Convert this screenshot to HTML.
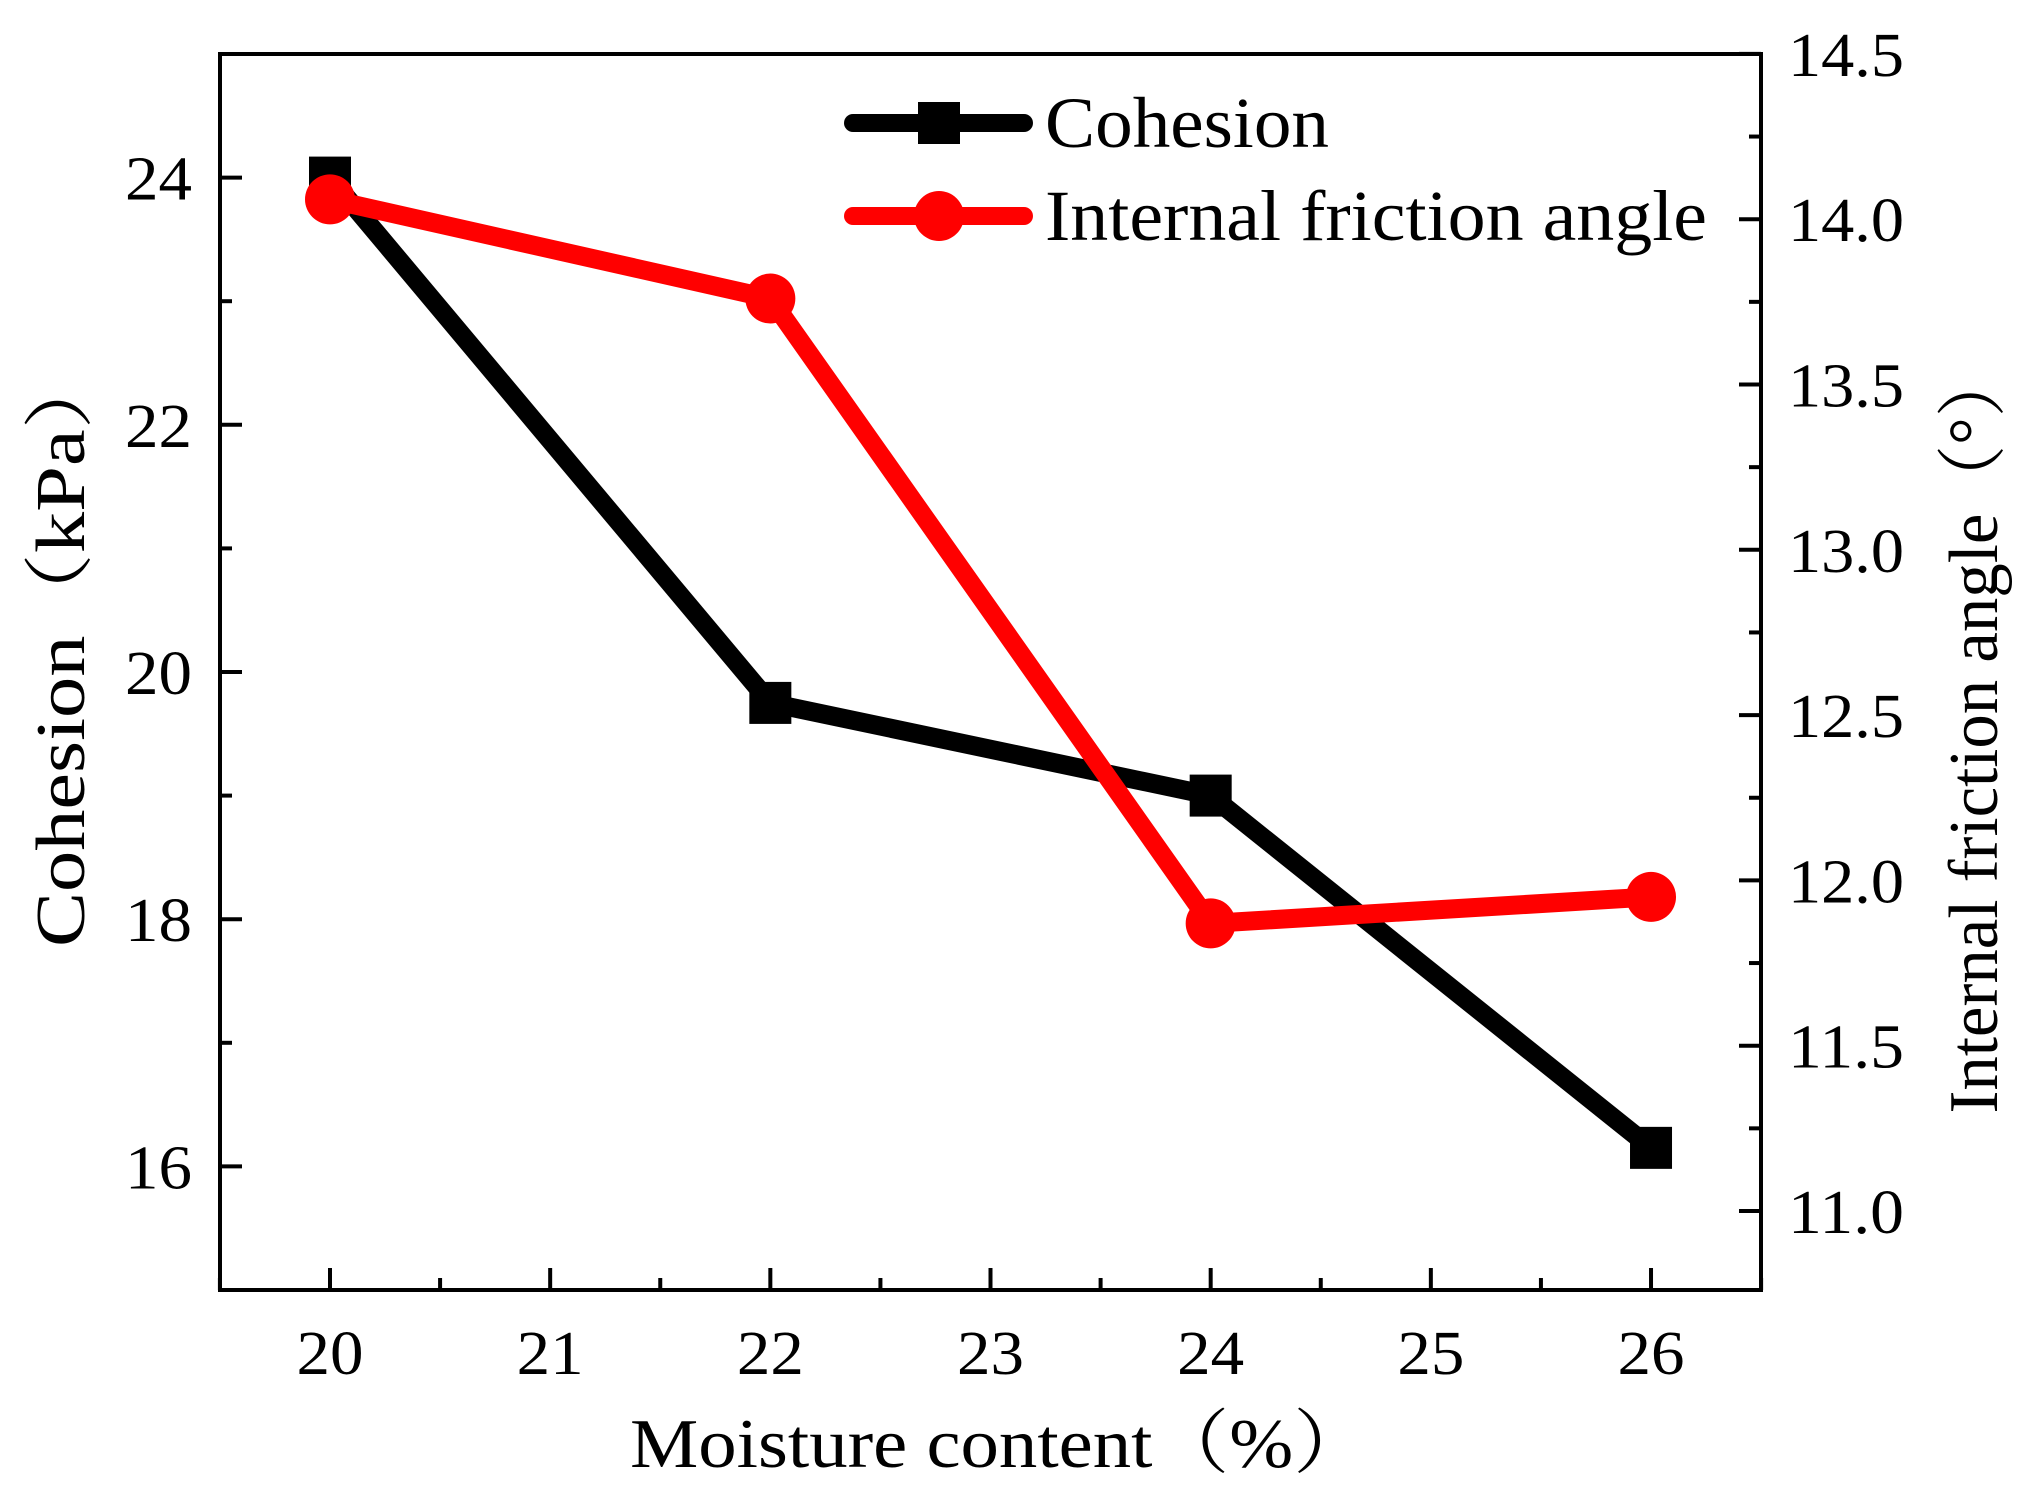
<!DOCTYPE html>
<html><head><meta charset="utf-8"><style>
body{margin:0;background:#fff}
text{font-family:"Liberation Serif","Noto Serif CJK SC",serif;fill:#000}
</style></head><body>
<svg id="c" width="2027" height="1501" viewBox="0 0 2027 1501">
<rect x="220" y="54" width="1541" height="1236" fill="none" stroke="#000" stroke-width="4"/>
<g id="ax"></g><g id="ser"></g>
<text x="630" y="1467" font-size="70" textLength="740" lengthAdjust="spacingAndGlyphs">Moisture content（%）</text>
<text transform="translate(84,647) rotate(-90)" font-size="70" text-anchor="middle" textLength="600" lengthAdjust="spacingAndGlyphs">Cohesion（kPa）</text>
<text transform="translate(1997,731) rotate(-90)" font-size="70" text-anchor="middle" textLength="765" lengthAdjust="spacingAndGlyphs">Internal friction angle（°）</text>
<g>
<g>
<line x1="853" y1="123" x2="1024" y2="123" stroke="#000" stroke-width="18" stroke-linecap="round"/>
<rect x="918" y="102" width="42" height="42" fill="#000"/>
<text x="1045" y="147" font-size="72" textLength="284" lengthAdjust="spacingAndGlyphs">Cohesion</text></g>
<g>
<line x1="853" y1="216" x2="1024" y2="216" stroke="#f00" stroke-width="18" stroke-linecap="round"/>
<circle cx="939" cy="216" r="25" fill="#f00"/>
<text x="1045" y="240" font-size="72" textLength="662" lengthAdjust="spacingAndGlyphs">Internal friction angle</text></g>
</g>
</svg>
<script>
const moisture=[20,22,24,26];
const cohesion=[24.0,19.75,19.0,16.15];
const friction=[14.06,13.76,11.87,11.95];
const xTicks=[20,21,22,23,24,25,26];
const yLeftTicks=[16,18,20,22,24];
const yRightTicks=[11.0,11.5,12.0,12.5,13.0,13.5,14.0,14.5];
const NS='http://www.w3.org/2000/svg';
const X=v=>330+(v-20)*220.17;
const YL=v=>1290-(v-15)*123.6;
const YR=v=>1211-(v-11)*330.6;
const ax=document.getElementById('ax'),ser=document.getElementById('ser');
function mk(t,a,p){const e=document.createElementNS(NS,t);for(const k in a)e.setAttribute(k,a[k]);p.appendChild(e);return e;}
for(let v=19.5;v<=26.51;v+=0.5){const x=X(v);const maj=Number.isInteger(v);
 const l=mk('line',{x1:x,x2:x,y1:1290,y2:1290-(maj?22:12),stroke:'#000','stroke-width':4},ax);
 
 }
xTicks.forEach(v=>{const t=mk('text',{x:X(v),y:1374,'font-size':62,'text-anchor':'middle',textLength:67,lengthAdjust:'spacingAndGlyphs'},ax);t.textContent=v;
 
 });
for(let v=15;v<=25;v+=1){const y=YL(v);const maj=v%2===0;
 const l=mk('line',{x1:220,x2:220+(maj?22:12),y1:y,y2:y,stroke:'#000','stroke-width':4},ax);
 
 }
yLeftTicks.forEach(v=>{const t=mk('text',{x:192,y:YL(v)+22,'font-size':62,'text-anchor':'end',textLength:67,lengthAdjust:'spacingAndGlyphs'},ax);t.textContent=v;
 
 });
for(let v=11;v<=14.51;v+=0.25){const y=YR(v);const maj=Math.abs(v*2-Math.round(v*2))<1e-6;
 const l=mk('line',{x1:1761,x2:1761-(maj?22:12),y1:y,y2:y,stroke:'#000','stroke-width':4},ax);
 
 }
yRightTicks.forEach(v=>{const t=mk('text',{x:1788,y:YR(v)+22,'font-size':62,textLength:116,lengthAdjust:'spacingAndGlyphs'},ax);t.textContent=v.toFixed(1);
 
 });
const pc=mk('polyline',{points:moisture.map((m,i)=>X(m)+','+YL(cohesion[i])).join(' '),fill:'none',stroke:'#000','stroke-width':19,'stroke-linejoin':'round'},ser);


moisture.forEach((m,i)=>{const r=mk('rect',{x:X(m)-21,y:YL(cohesion[i])-21,width:42,height:42,fill:'#000'},ser);
 
 });
const pf=mk('polyline',{points:moisture.map((m,i)=>X(m)+','+YR(friction[i])).join(' '),fill:'none',stroke:'#f00','stroke-width':19,'stroke-linejoin':'round'},ser);


moisture.forEach((m,i)=>{const c=mk('circle',{cx:X(m),cy:YR(friction[i]),r:25,fill:'#f00'},ser);
 
 });
</script>
</body></html>
